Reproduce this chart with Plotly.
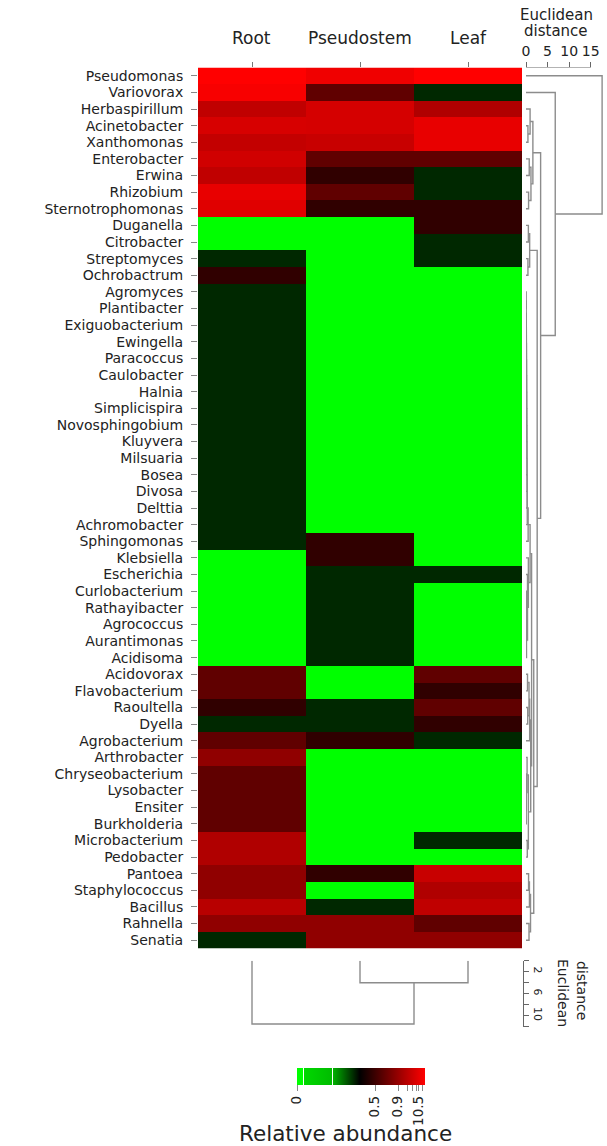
import plotly.graph_objects as go

W, H = 607, 1146

def px_x(p):
    return p / W

def px_y(p):
    return 1 - p / H

# ---------------- data ----------------
genera = [
    "Pseudomonas", "Variovorax", "Herbaspirillum", "Acinetobacter", "Xanthomonas",
    "Enterobacter", "Erwina", "Rhizobium", "Sternotrophomonas", "Duganella",
    "Citrobacter", "Streptomyces", "Ochrobactrum", "Agromyces", "Plantibacter",
    "Exiguobacterium", "Ewingella", "Paracoccus", "Caulobacter", "Halnia",
    "Simplicispira", "Novosphingobium", "Kluyvera", "Milsuaria", "Bosea",
    "Divosa", "Delttia", "Achromobacter", "Sphingomonas", "Klebsiella",
    "Escherichia", "Curlobacterium", "Rathayibacter", "Agrococcus", "Aurantimonas",
    "Acidisoma", "Acidovorax", "Flavobacterium", "Raoultella", "Dyella",
    "Agrobacterium", "Arthrobacter", "Chryseobacterium", "Lysobacter", "Ensiter",
    "Burkholderia", "Microbacterium", "Pedobacter", "Pantoea", "Staphylococcus",
    "Bacillus", "Rahnella", "Senatia",
]
tissues = ["Root", "Pseudostem", "Leaf"]

# relative abundance, expressed as position on the colour key (0 = green, 1 = red)
root_vals = [
    1.0, 0.985, 0.874, 0.92, 0.88, 0.906, 0.874, 0.955, 0.938, 0.02,
    0.02, 0.443, 0.586, 0.443, 0.443, 0.443, 0.443, 0.443, 0.443, 0.443,
    0.443, 0.443, 0.443, 0.443, 0.443, 0.443, 0.443, 0.443, 0.443, 0.02,
    0.02, 0.02, 0.02, 0.02, 0.02, 0.02, 0.682, 0.682, 0.586, 0.443,
    0.682, 0.778, 0.682, 0.682, 0.682, 0.682, 0.842, 0.842, 0.778, 0.778,
    0.858, 0.778, 0.443,
]
pseudostem_vals = [
    0.97, 0.682, 0.915, 0.915, 0.89, 0.682, 0.586, 0.682, 0.586, 0.02,
    0.02, 0.02, 0.02, 0.02, 0.02, 0.02, 0.02, 0.02, 0.02, 0.02,
    0.02, 0.02, 0.02, 0.02, 0.02, 0.02, 0.02, 0.02, 0.586, 0.586,
    0.443, 0.443, 0.443, 0.443, 0.443, 0.443, 0.02, 0.02, 0.443, 0.443,
    0.586, 0.02, 0.02, 0.02, 0.02, 0.02, 0.02, 0.02, 0.586, 0.02,
    0.443, 0.778, 0.778,
]
leaf_vals = [
    1.0, 0.443, 0.842, 0.955, 0.955, 0.682, 0.443, 0.443, 0.586, 0.586,
    0.443, 0.443, 0.02, 0.02, 0.02, 0.02, 0.02, 0.02, 0.02, 0.02,
    0.02, 0.02, 0.02, 0.02, 0.02, 0.02, 0.02, 0.02, 0.02, 0.02,
    0.443, 0.02, 0.02, 0.02, 0.02, 0.02, 0.682, 0.586, 0.682, 0.586,
    0.443, 0.02, 0.02, 0.02, 0.02, 0.02, 0.443, 0.02, 0.89, 0.842,
    0.874, 0.682, 0.778,
]

# row dendrogram (hclust style: negative = leaf number, positive = earlier merge)
row_merge_a = [-4, -3, -6, -8, 3, 2, -10, -12, 7,
               -14, 10, 11, 12, 13, 14, 15, 16, 17, 18, 19, 20, 21, 22, 23,
               -33, -32, 26, 27, -31, -30, 24,
               -37, -39, 32, 34, -44, 36, -43, -42, -47, 39, 35,
               31, -49, 44, -52, 45, 43, 9, 6, -2, -1]
row_merge_b = [-5, 1, -7, -9, 4, 5, -11, -13, 8,
               -15, -16, -17, -18, -19, -20, -21, -22, -23, -24, -25, -26, -27, -28, -29,
               -34, 25, -35, -36, 28, 29, 30,
               -38, -40, 33, -41, -45, -46, 37, 38, -48, 40, 41,
               42, -50, -51, -53, 46, 47, 48, 49, 50, 51]
row_merge_h = [0.45, 0.95, 0.75, 0.6, 1.15, 1.6, 0.55, 0.45, 0.85,
               0.04, 0.06, 0.08, 0.1, 0.12, 0.14, 0.16, 0.18, 0.2, 0.22, 0.24, 0.26, 0.28, 0.3, 0.5,
               0.05, 0.08, 0.1, 0.12, 0.35, 0.55, 0.95,
               0.35, 0.4, 0.7, 0.85, 0.04, 0.06, 0.08, 0.25, 0.3, 0.55, 1.1,
               1.3, 0.6, 0.8, 0.7, 1.05, 1.8, 2.6, 3.4, 6.8, 17.7]

# column dendrogram
col_merge_a = [-2, -1]
col_merge_b = [-3, 1]
col_merge_h = [4.0, 11.5]

# colour key
key_tickvals = [0.0, 0.61, 0.79, 0.86, 0.906, 0.93, 0.953, 0.984]
key_ticktext = ["0", "0.5", "0.9", "", "", "", "10.5", ""]


def dendro(ma, mb, mh):
    pos, hgt = {}, {}
    ps, hs = [], []

    def get(ref):
        if ref < 0:
            return float(-ref - 1), 0.0
        return pos[ref], hgt[ref]

    for k, (a, b, h) in enumerate(zip(ma, mb, mh), start=1):
        pa, ha = get(a)
        pb, hb = get(b)
        hs += [ha, h, h, hb, None]
        ps += [pa, pa, pb, pb, None]
        pos[k] = (pa + pb) / 2
        hgt[k] = h
    return ps, hs


z = [[r, p, l] for r, p, l in zip(root_vals, pseudostem_vals, leaf_vals)]

colorscale = [
    [0.0, "#00FF00"], [0.045, "#00FF00"], [0.045, "#FFFFFF"], [0.054, "#FFFFFF"],
    [0.054, "#00D800"], [0.274, "#00BC00"], [0.274, "#FFFFFF"], [0.283, "#FFFFFF"],
    [0.283, "#00B000"], [0.49, "#000000"], [1.0, "#FF0000"],
]

FONT = "DejaVu Sans"
LINE = "#8c8c8c"

fig = go.Figure()

fig.add_trace(go.Heatmap(
    z=z, x=[0, 1, 2], y=list(range(len(genera))),
    zmin=0, zmax=1, colorscale=colorscale, hoverinfo="skip",
    colorbar=dict(
        orientation="h", x=px_x(361), xanchor="center", y=px_y(1068), yanchor="top",
        len=128, lenmode="pixels", thickness=17, thicknessmode="pixels",
        outlinewidth=0, xpad=0, ypad=0,
        ticks="outside", ticklen=6, tickcolor="#888",
        tickvals=key_tickvals, ticktext=key_ticktext, tickangle=-90,
        tickfont=dict(size=13.5, color="#222", family=FONT),
    ),
))

# row dendrogram
rp, rh = dendro(row_merge_a, row_merge_b, row_merge_h)
fig.add_trace(go.Scatter(x=rh, y=rp, xaxis="x3", yaxis="y", mode="lines",
                         line=dict(color=LINE, width=1.4), hoverinfo="skip"))
# dummy on scale axis
fig.add_trace(go.Scatter(x=[None], y=[None], xaxis="x2", yaxis="y", mode="lines",
                         hoverinfo="skip"))
# column dendrogram
cp, ch = dendro(col_merge_a, col_merge_b, col_merge_h)
fig.add_trace(go.Scatter(x=cp, y=ch, xaxis="x", yaxis="y3", mode="lines",
                         line=dict(color=LINE, width=1.4), hoverinfo="skip"))

fig.update_layout(
    width=W, height=H, autosize=False,
    margin=dict(l=0, r=0, t=0, b=0, autoexpand=False),
    paper_bgcolor="white", plot_bgcolor="white",
    showlegend=False,
    font=dict(family=FONT, color="#222"),
    xaxis=dict(domain=[px_x(198), px_x(522)], range=[-0.5, 2.5], side="top", anchor="y",
               tickvals=[0, 1, 2], ticks="outside", ticklen=5, tickcolor="#777",
               showticklabels=False, showgrid=False, zeroline=False),
    yaxis=dict(domain=[px_y(948.5), px_y(67.5)], range=[52.5, -0.5], anchor="x",
               tickvals=list(range(len(genera))), ticktext=genera,
               ticks="outside", ticklen=6, tickcolor="#888", ticklabelstandoff=5,
               tickfont=dict(size=14, color="#222"),
               showgrid=False, zeroline=False),
    xaxis2=dict(domain=[px_x(526), px_x(590.7)], range=[0, 15], side="top", anchor="y",
                tickvals=[0, 5, 10, 15], ticks="outside", ticklen=5, tickcolor="#666",
                tickangle=0,
                showline=True, linecolor="#666", linewidth=1,
                tickfont=dict(size=14, color="#222"),
                showgrid=False, zeroline=False),
    xaxis3=dict(domain=[px_x(526), 1.0], range=[0, 81 / 4.3], anchor="y", visible=False),
    yaxis3=dict(domain=[px_y(1026.7), px_y(960.7)], range=[12, 0], anchor="free",
                position=px_x(523.3), side="right",
                showline=True, linecolor="#666", linewidth=1,
                ticks="outside", ticklen=5, tickcolor="#666",
                tickvals=[0, 2, 4, 6, 8, 10, 12],
                ticktext=["", "2", "", "6", "", "10", ""], tickangle=90,
                tickfont=dict(size=11, color="#222"),
                showgrid=False, zeroline=False),
)

def note(text, x, y, size, xref="paper", angle=0):
    return dict(text=text, x=x, xref=xref, y=y, yref="paper", xanchor="center",
                yanchor="middle", showarrow=False, textangle=angle,
                font=dict(size=size, color="#222"))

ann = [note(t, i, px_y(38), 17, xref="x") for i, t in enumerate(tissues)]
ann.append(note("Euclidean", px_x(556), px_y(15), 15))
ann.append(note("distance", px_x(556), px_y(31), 15))
ann.append(note("Euclidean", px_x(563), px_y(993), 14, angle=90))
ann.append(note("distance", px_x(582), px_y(990), 14, angle=90))
ann.append(note("Relative abundance", px_x(345), px_y(1133), 21.5))
fig.update_layout(annotations=ann)

fig.write_html("out.html", config={"displayModeBar": False},
               post_script="document.body.style.margin='0';")
